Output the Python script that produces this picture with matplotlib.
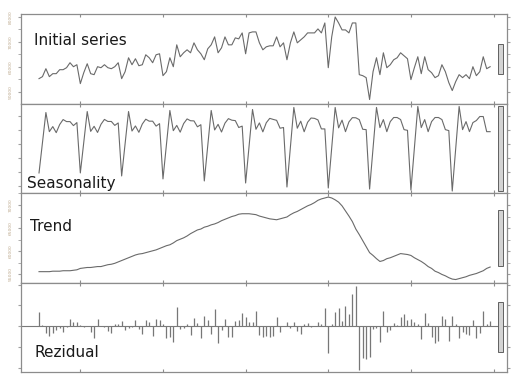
import numpy as np
import matplotlib.pyplot as plt
import matplotlib.transforms as mtransforms
from matplotlib.patches import Rectangle

# monthly series, 11 years (132 values)
series = [55200, 56000, 59200, 56000, 57200, 57200, 58800, 58800, 59600, 61600, 60000, 60800,
          53200, 57600, 61200, 57200, 56800, 60000, 59600, 60800, 59600, 59200, 60000, 61600,
          55200, 58000, 63600, 60800, 63200, 60400, 60800, 64800, 63600, 61600, 64800, 65200,
          56400, 58000, 63600, 60000, 68800, 64000, 65600, 66800, 65600, 69600, 66800, 65200,
          62800, 67200, 68800, 72000, 65600, 67600, 72000, 68800, 68800, 71600, 71200, 73600,
          65200, 73600, 74000, 74000, 69600, 66800, 68000, 68400, 68400, 72000, 68000, 69600,
          62800, 69600, 74000, 69600, 70800, 72000, 73600, 73600, 73600, 75200, 73600, 77600,
          59600, 72000, 80000, 77600, 74800, 74800, 73600, 77600, 77600, 56800, 56400, 55600,
          46800, 58000, 63600, 56800, 65600, 59600, 60800, 62800, 63600, 65600, 64400, 63200,
          54800, 59600, 64000, 57200, 64000, 58800, 57600, 55600, 56400, 60800, 58000, 53600,
          50400, 54000, 56800, 55600, 56800, 55200, 60000, 56400, 58000, 64000, 59200, 60000]

seasonal = [-6150, -1860, 2430, -290, 430, -430, 720, 1430, 1140, 1140, 570, 1000,
            -6150, -1790, 2570, -250, 470, -400, 760, 1450, 1160, 1160, 600, 950,
            -6580, -2000, 2570, -200, 520, -380, 800, 1480, 1200, 1200, 500, 850,
            -7000, -2140, 2720, -150, 600, -360, 860, 1520, 1260, 1240, 400, 700,
            -7290, -2290, 2720, -50, 750, -340, 920, 1560, 1340, 1280, 300, 500,
            -7580, -2360, 2860, 50, 950, -320, 980, 1600, 1450, 1320, 200, 300,
            -8150, -2500, 3150, 200, 1200, -300, 1050, 1650, 1600, 1380, 100, 100,
            -8290, -2570, 3150, 250, 1350, -290, 1100, 1700, 1680, 1420, 50, 0,
            -8440, -2650, 3150, 290, 1430, -290, 1140, 1720, 1720, 1430, 0, -100,
            -8580, -2650, 3290, 290, 1430, -290, 1140, 1720, 1720, 1430, 0, -140,
            -8720, -2720, 3290, 0, 1140, -290, 1000, 1290, 1860, 1860, -290, -290]

trend = [55600, 55600, 55600, 55600, 55700, 55700, 55700, 55800, 55800, 55800, 55900, 56000,
         56300, 56400, 56500, 56500, 56600, 56700, 56700, 56900, 57100, 57200, 57400, 57700,
         58000, 58300, 58600, 58900, 59200, 59400, 59500, 59700, 59900, 60100, 60300, 60600,
         60900, 61200, 61400, 61800, 62300, 62600, 62900, 63300, 63800, 64200, 64600, 64800,
         65200, 65400, 65700, 65900, 66200, 66600, 66900, 67200, 67500, 67700, 68000, 68100,
         68100, 68100, 68000, 67900, 67600, 67400, 67200, 67000, 66900, 66800, 67000, 67200,
         67400, 67900, 68300, 68600, 69000, 69400, 69800, 70100, 70500, 71000, 71300, 71500,
         71700, 71500, 71100, 70600, 69800, 68700, 67600, 66400, 64800, 63600, 62300, 61000,
         59700, 59100, 58400, 57800, 58000, 58400, 58600, 58900, 59200, 59500, 59400, 59300,
         59100, 58600, 58200, 57800, 57300, 56700, 56300, 55700, 55400, 55000, 54700, 54300,
         54000, 53900, 54100, 54300, 54500, 54800, 55000, 55200, 55500, 55800, 56300, 56600]

resid = [3360, 400, -1600, -2240, -1600, -800, -400, -1360, -200, 1760, 960, 1120,
         400, -200, 0, -1440, -2800, 1760, 200, -200, -1200, -1600, 560, 560,
         1200, -800, -300, -200, 1440, -640, -1760, 1440, 1040, -2240, 1760, 1600,
         640, -2800, -2560, -3600, 4560, -640, -400, 560, -2000, 2000, 800, -2800,
         2560, 1600, -1760, 4160, -4000, -960, 1840, -2560, -2400, 1200, 1440, 3200,
         2240, 960, 960, 3760, -2000, -2560, -2240, -2560, -2240, 2240, -1440, 0,
         960, -400, 960, -1200, -1760, 640, 800, -100, 100, 1040, 480, 4400,
         -6400, 560, 3440, 4400, 1200, 4960, 2960, 7840, 9600, -10400, -7600, -7760,
         -7200, -560, -300, -3760, 3600, -1360, -800, 800, 400, 2160, 2960, 1600,
         1760, 1040, 640, -2960, 3200, 800, -2400, -4000, -3440, 2560, 1760, -3360,
         2560, 640, -2800, -1360, -1760, -2000, 1440, -2800, -1600, 3760, 640, 1200]

titles = ["Initial series", "Seasonality", "Trend", "Rezidual"]
t = np.arange(len(series))

fig, axes = plt.subplots(4, 1, figsize=(5.12, 3.77), dpi=100, sharex=True)
fig.subplots_adjust(left=21/512, right=507/512, top=1-14/377, bottom=1-372/377, hspace=0)

lc = '#6a6a6a'
axes[0].plot(t, series, color=lc, lw=0.8)
axes[1].plot(t, seasonal, color=lc, lw=0.8)
axes[2].plot(t, trend, color=lc, lw=0.8)
axes[3].vlines(t, 0, resid, color='#777777', lw=0.9)
axes[3].axhline(0, color='#7a7a7a', lw=0.8)

ylims = [(45200, 81200), (-9000, 3710), (53260, 72575), (-10860, 10480)]
bar_len = 12000

for i, ax in enumerate(axes):
    ax.set_xlim(-5.23, 135.9)
    ax.set_ylim(*ylims[i])
    for s in ax.spines.values():
        s.set_color('#8c8c8c')
        s.set_linewidth(0.9)
    ax.set_xticks(np.arange(12, 133, 24))
    ax.tick_params(axis='x', which='both', direction='in', length=2.5, color='#8c8c8c',
                   top=True, bottom=True, labelbottom=False)
    ax.tick_params(axis='y', which='both', direction='out', length=2, color='#a0a0a0',
                   left=True, right=True, labelleft=False, labelsize=3.2,
                   labelcolor='#bca88c', labelrotation=90, pad=4)
    # range bar at the right
    mid = sum(ylims[i]) / 2
    trans = mtransforms.blended_transform_factory(ax.transAxes, ax.transData)
    ax.add_patch(Rectangle((477/486, mid - bar_len/2), 5/486, bar_len, transform=trans,
                           facecolor='#d3d3d3', edgecolor='#606060', lw=0.7, zorder=5))

axes[0].set_yticks([50000, 60000, 70000, 80000])
axes[0].set_yticks(np.arange(50000, 80001, 5000), minor=True)
axes[0].tick_params(axis='y', labelleft=True)
for lab in axes[0].get_yticklabels():
    lab.set_va('center')
axes[2].set_yticks([55000, 60000, 65000, 70000])
axes[2].set_yticks(np.arange(55000, 72501, 2500), minor=True)
axes[2].tick_params(axis='y', labelleft=True)
for lab in axes[2].get_yticklabels():
    lab.set_va('center')
axes[1].set_yticks(np.arange(-8000, 3001, 2000))
axes[3].set_yticks(np.arange(-10000, 10001, 5000))

text_pos = [(13/486, 1-31/90), (6/486, 1-84/89), (9/486, 1-38/90), (14/486, 1-74/89)]
for ax, title, (x, y) in zip(axes, titles, text_pos):
    ax.text(x, y, title, transform=ax.transAxes, fontsize=11, color='#1a1a1a',
            va='baseline', ha='left', family='DejaVu Sans')

fig.savefig('out.png', dpi=100)
